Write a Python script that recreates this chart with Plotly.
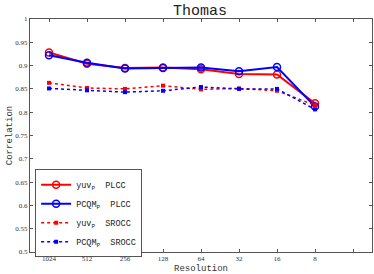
import plotly.graph_objects as go

resolutions = ["1024", "512", "256", "128", "64", "32", "16", "8"]
positions = [1, 2, 3, 4, 5, 6, 7, 8]
yuv_plcc = [0.928, 0.904, 0.895, 0.896, 0.892, 0.882, 0.881, 0.819]
pcqm_plcc = [0.922, 0.906, 0.894, 0.895, 0.896, 0.888, 0.897, 0.812]
yuv_srocc = [0.863, 0.852, 0.850, 0.857, 0.849, 0.851, 0.846, 0.815]
pcqm_srocc = [0.851, 0.847, 0.843, 0.846, 0.854, 0.850, 0.850, 0.806]
tick_vals = [1, 2, 3, 4, 5, 6, 7, 8, 9]
tick_text = resolutions + [""]
y_ticks = [0.5, 0.55, 0.6, 0.65, 0.7, 0.75, 0.8, 0.85, 0.9, 0.95, 1]
y_tick_text = ["0.5", "0.55", "0.6", "0.65", "0.7", "0.75", "0.8", "0.85", "0.9", "0.95", "1"]

mono = "Liberation Mono"
serif = "Liberation Serif"

fig = go.Figure()
fig.add_trace(go.Scatter(x=positions, y=yuv_plcc, mode="lines+markers", name="yuv<sub>P</sub>  PLCC",
                         line=dict(color="#ff0000", width=2),
                         marker=dict(symbol="circle-open", size=7, color="#ff0000", line=dict(width=1.5))))
fig.add_trace(go.Scatter(x=positions, y=pcqm_plcc, mode="lines+markers", name="PCQM<sub>P</sub>  PLCC",
                         line=dict(color="#0000ff", width=2),
                         marker=dict(symbol="circle-open", size=7, color="#0000ff", line=dict(width=1.5))))
fig.add_trace(go.Scatter(x=positions, y=yuv_srocc, mode="lines+markers", name="yuv<sub>P</sub>  SROCC",
                         line=dict(color="#ff0000", width=1.5, dash="dot"),
                         marker=dict(symbol="square", size=4, color="#ff0000")))
fig.add_trace(go.Scatter(x=positions, y=pcqm_srocc, mode="lines+markers", name="PCQM<sub>P</sub>  SROCC",
                         line=dict(color="#0000ff", width=1.5, dash="dot"),
                         marker=dict(symbol="square", size=4, color="#0000ff")))

axis_common = dict(showgrid=False, zeroline=False, showline=True, linecolor="#555555", linewidth=1,
                   mirror="allticks", ticks="inside", ticklen=3, tickcolor="#555555", automargin=False)

fig.update_layout(
    width=374, height=274,
    margin=dict(l=30, r=2, t=19, b=22),
    paper_bgcolor="white", plot_bgcolor="white",
    title=dict(text="Thomas", x=0.535, xanchor="center", y=0.965, yanchor="middle",
               font=dict(family=mono, size=15, color="#222222")),
    xaxis=dict(range=[0.5, 9.5], tickvals=tick_vals, ticktext=tick_text,
               tickfont=dict(family=serif, size=7, color="#333333"),
               title=dict(text="Resolution", font=dict(family=mono, size=9, color="#333333"), standoff=6),
               **axis_common),
    yaxis=dict(range=[0.5, 1.0], tickvals=y_ticks, ticktext=y_tick_text,
               tickfont=dict(family=serif, size=7, color="#333333"),
               title=dict(text="Correlation", font=dict(family=mono, size=9, color="#333333"), standoff=0),
               **axis_common),
    legend=dict(x=0.015, y=0.355, xanchor="left", yanchor="top",
                bgcolor="white", bordercolor="#555555", borderwidth=1,
                font=dict(family=mono, size=8.5, color="#222222"),
                tracegroupgap=0, itemwidth=30),
    showlegend=True,
)

fig.write_html("out.html", config={"displayModeBar": False},
               post_script="document.body.style.margin='0';")
